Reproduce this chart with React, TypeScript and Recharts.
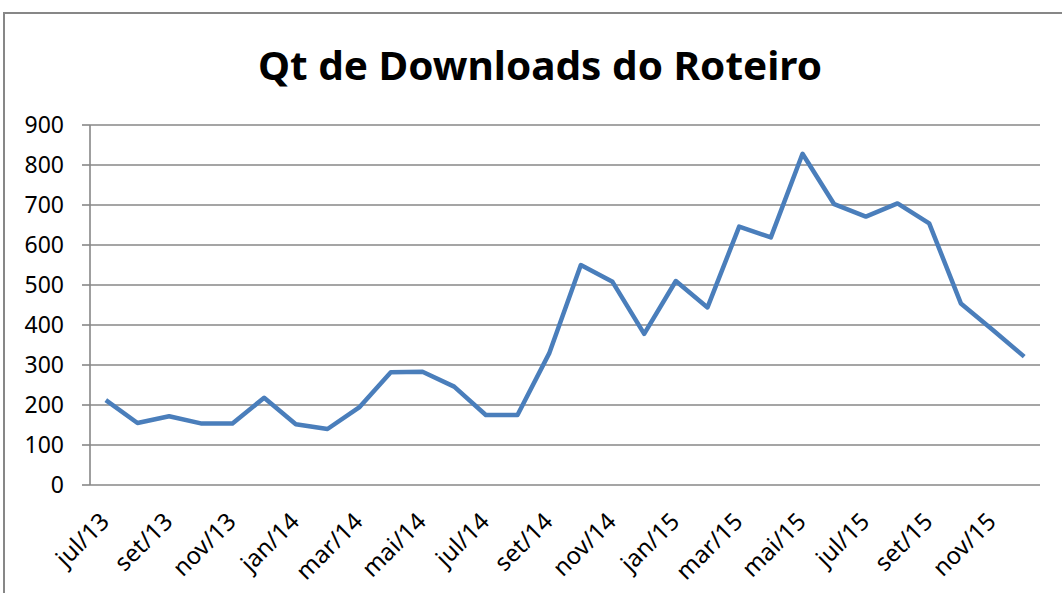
import { LineChart, Line, XAxis, YAxis, CartesianGrid } from 'recharts';

const months = [
  'jul/13', 'ago/13', 'set/13', 'out/13', 'nov/13', 'dez/13',
  'jan/14', 'fev/14', 'mar/14', 'abr/14', 'mai/14', 'jun/14',
  'jul/14', 'ago/14', 'set/14', 'out/14', 'nov/14', 'dez/14',
  'jan/15', 'fev/15', 'mar/15', 'abr/15', 'mai/15', 'jun/15',
  'jul/15', 'ago/15', 'set/15', 'out/15', 'nov/15', 'dez/15',
];

const downloads = [
  212, 155, 172, 154, 154, 218,
  152, 140, 194, 282, 283, 246,
  175, 175, 329, 550, 508, 378,
  510, 444, 646, 619, 828, 702,
  671, 704, 654, 454, 388, 321,
];

const yTicks = [0, 100, 200, 300, 400, 500, 600, 700, 800, 900];
// tick marks sit on category boundaries, every 2 months
const boundaryTicks = [0, 2, 4, 6, 8, 10, 12, 14, 16, 18, 20, 22, 24, 26, 28, 30];

const chartData = months.map((m, i) => ({ month: m, value: downloads[i] }));

const FONT = '"Noto Sans", "Open Sans", sans-serif';

function AngledTick(props: any) {
  const { x, y, payload } = props;
  return (
    <g transform={`translate(${x + 5},${y + 38})`}>
      <text x={0} y={0} textAnchor="end" transform="rotate(-45)" fontSize={24} fontFamily={FONT} fill="#000">
        {payload.value}
      </text>
    </g>
  );
}

export default function App() {
  return (
    <div style={{ position: 'absolute', left: 0, top: 0, width: 1062, height: 593, overflow: 'hidden', background: '#fff' }}>
      <div style={{ position: 'absolute', left: 3, top: 12, width: 1100, height: 640, border: '2px solid #878787', boxSizing: 'border-box' }} />
      <svg style={{ position: 'absolute', left: 0, top: 0 }} width={1062} height={100}>
        <text x={540} y={80} textAnchor="middle" fontFamily={FONT} fontWeight={700} fontSize={40}
          textLength={564} lengthAdjust="spacingAndGlyphs" fill="#000">
          Qt de Downloads do Roteiro
        </text>
      </svg>
      <div style={{ position: 'absolute', left: 0, top: 0 }}>
        <LineChart width={1062} height={593} data={chartData} margin={{ top: 125, right: 22, bottom: 8, left: 10 }}>
          <CartesianGrid vertical={false} stroke="#878787" strokeWidth={1.6} />
          <XAxis
            xAxisId="marks"
            type="number"
            domain={[0, 30]}
            allowDataOverflow
            ticks={boundaryTicks}
            tick={false}
            tickSize={7}
            height={0}
            stroke="#878787"
            strokeWidth={1.6}
          />
          <XAxis
            xAxisId="cat"
            dataKey="month"
            interval={1}
            padding={{ left: 15.8, right: 15.8 }}
            axisLine={false}
            tickLine={false}
            tickSize={0}
            tickMargin={0}
            height={100}
            tick={<AngledTick />}
          />
          <YAxis
            domain={[0, 900]}
            ticks={yTicks}
            width={80}
            tickSize={8}
            tickMargin={18}
            stroke="#878787"
            strokeWidth={1.6}
            tick={{ fontSize: 23, fontFamily: FONT, fill: '#000' }}
          />
          <Line
            xAxisId="cat"
            type="linear"
            dataKey="value"
            stroke="#4A7EBB"
            strokeWidth={4.5}
            strokeLinejoin="round"
            dot={false}
            isAnimationActive={false}
          />
        </LineChart>
      </div>
    </div>
  );
}
